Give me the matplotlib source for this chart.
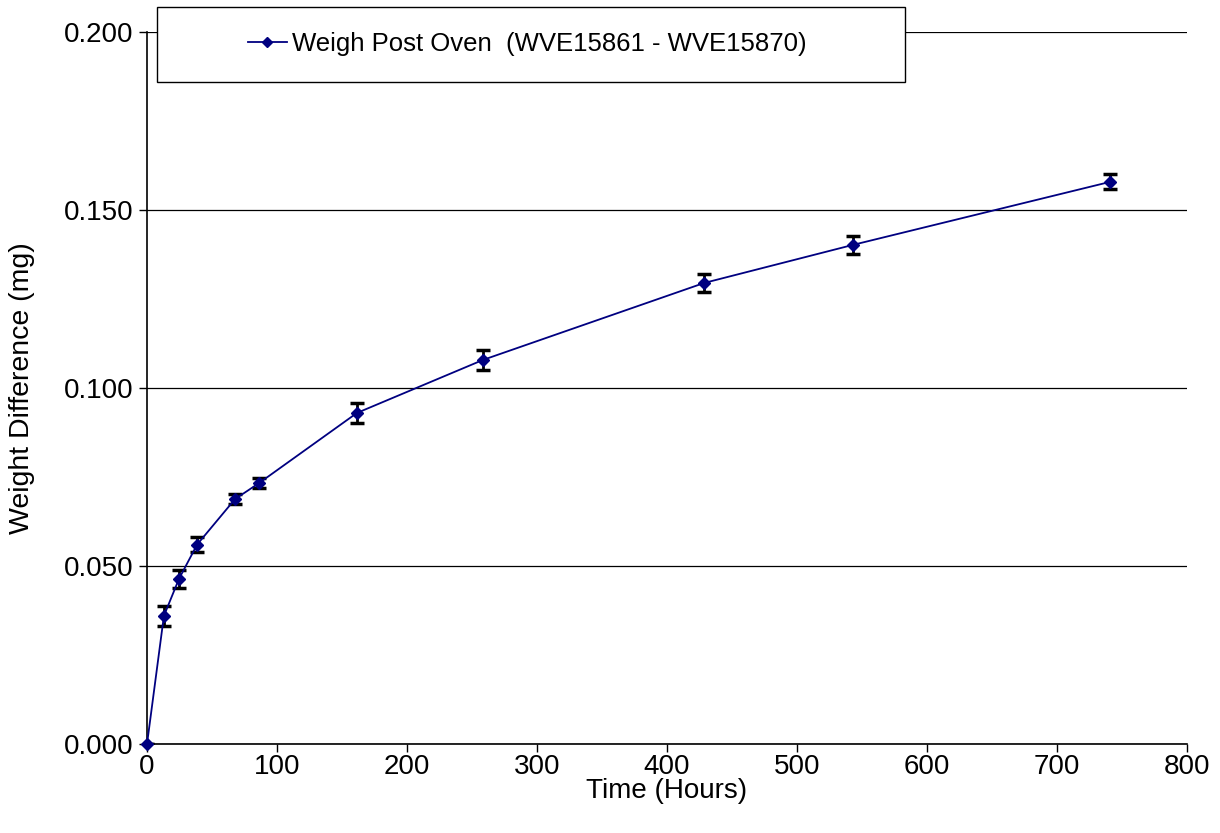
import matplotlib
matplotlib.use("Agg")
import matplotlib.pyplot as plt
from matplotlib.patches import Rectangle

plt.rcParams['font.family'] = ['Liberation Sans', 'DejaVu Sans']

hours = [0, 13, 24.6, 38.5, 67.7, 86.2, 161.5, 258.5, 428.5, 543, 740.8]
weight_diff = [0.000, 0.0360, 0.0464, 0.0560, 0.0688, 0.0733, 0.0930, 0.1079, 0.1295, 0.1402, 0.1579]
weight_err = [0.0, 0.0028, 0.0026, 0.0022, 0.0013, 0.0013, 0.0028, 0.0028, 0.0025, 0.0025, 0.0021]
series_label = "Weigh Post Oven  (WVE15861 - WVE15870)"

fig = plt.figure(figsize=(12.2, 8.33), dpi=100)
ax = fig.add_axes([0.1205, 0.1068, 0.8525, 0.8548])

ax.errorbar(hours, weight_diff, yerr=weight_err, fmt='none', ecolor='black',
            elinewidth=2, capsize=5, capthick=2.5, zorder=3)
line, = ax.plot(hours, weight_diff, color='#000080', lw=1.3, marker='D',
                markersize=6, markerfacecolor='#000080', markeredgecolor='#000080',
                zorder=4, clip_on=False)

ax.set_xlim(0, 800)
ax.set_ylim(0, 0.2)
ax.set_xticks(range(0, 801, 100))
ax.set_yticks([0, 0.05, 0.1, 0.15, 0.2])
ax.set_yticklabels([f"{v:.3f}" for v in [0, 0.05, 0.1, 0.15, 0.2]])
ax.yaxis.grid(True, color='black', lw=0.9)
ax.set_axisbelow(True)
for s in ['top', 'right']:
    ax.spines[s].set_visible(False)
for s in ['left', 'bottom']:
    ax.spines[s].set_linewidth(1.2)
ax.tick_params(axis='both', labelsize=20, direction='out', length=6, width=1)
ax.tick_params(axis='x', pad=1)
ax.tick_params(axis='y', pad=4)
ax.set_xlabel("Time (Hours)", fontsize=20, labelpad=-1)
ax.set_ylabel("Weight Difference (mg)", fontsize=20.5)
ax.yaxis.set_label_coords(-0.108, 0.5)

# legend box at the top
box = Rectangle((0.1287, 0.9016), 0.6131, 0.09, transform=fig.transFigure,
                facecolor='white', edgecolor='black', lw=1, zorder=5)
fig.patches.append(box)
leg_handle = plt.Line2D([], [], color='#000080', lw=1.3, marker='D', markersize=5,
                        markerfacecolor='#000080')
leg = fig.legend([leg_handle], [series_label], loc='center',
                 bbox_to_anchor=(0.1287 + 0.6131 / 2 - 0.003, 0.9016 + 0.045),
                 frameon=False, fontsize=18.5, handlelength=1.5, handletextpad=0.2)
leg.set_zorder(6)

fig.savefig("out.png", dpi=100)
